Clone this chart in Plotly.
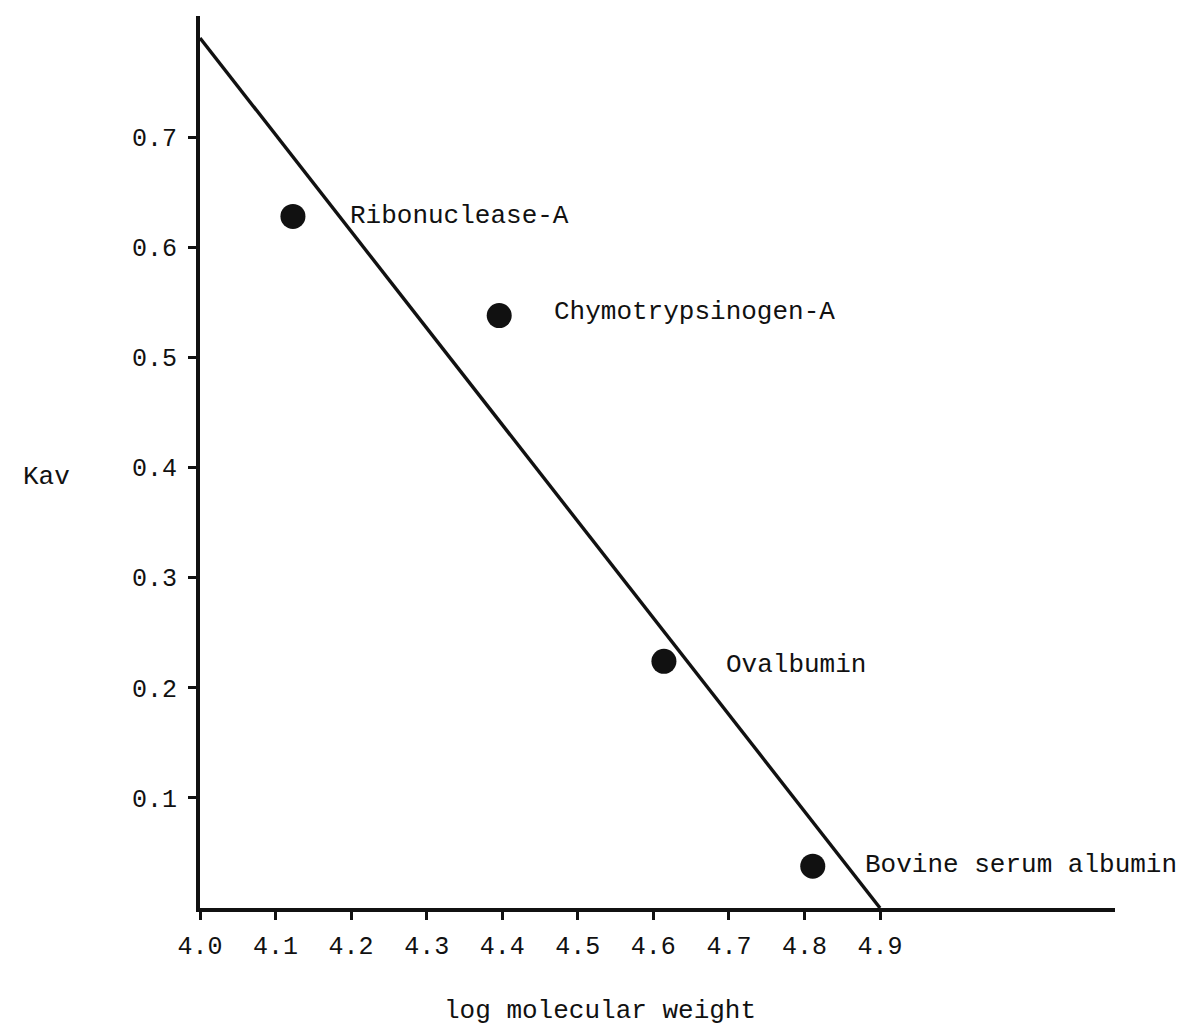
import plotly.graph_objects as go

# Calibration proteins: log molecular weight vs. Kav
proteins = ["Ribonuclease-A", "Chymotrypsinogen-A", "Ovalbumin", "Bovine serum albumin"]
log_mw = [4.123, 4.396, 4.614, 4.811]
kav = [0.628, 0.538, 0.224, 0.038]

# Calibration line end points
line_log_mw = [4.0, 4.9]
line_kav = [0.79, 0.0]

# Tick labels
x_ticks = [4.0, 4.1, 4.2, 4.3, 4.4, 4.5, 4.6, 4.7, 4.8, 4.9]
x_tick_text = ["4.0", "4.1", "4.2", "4.3", "4.4", "4.5", "4.6", "4.7", "4.8", "4.9"]
y_ticks = [0.1, 0.2, 0.3, 0.4, 0.5, 0.6, 0.7]
y_tick_text = ["0.1", "0.2", "0.3", "0.4", "0.5", "0.6", "0.7"]

INK = "#111111"
MONO = "Courier New, Liberation Mono, monospace"

# pixel offsets of each protein name from its point
label_dx = [55, 53, 60, 50]
label_dy = [0, 4, -4, 1]

fig = go.Figure()

fig.add_trace(go.Scatter(
    x=line_log_mw, y=line_kav, mode="lines",
    line=dict(color=INK, width=3.4), hoverinfo="skip", showlegend=False,
))

fig.add_trace(go.Scatter(
    x=log_mw, y=kav, mode="markers",
    marker=dict(color=INK, size=25, line=dict(width=0)),
    text=proteins, showlegend=False,
))

for name, xv, yv, dx, dy in zip(proteins, log_mw, kav, label_dx, label_dy):
    fig.add_annotation(
        x=xv, y=yv, text=name, showarrow=False,
        xanchor="left", yanchor="middle", xshift=dx, yshift=dy,
        font=dict(family=MONO, size=26, color=INK),
    )

fig.add_annotation(
    xref="paper", yref="paper", x=-0.168, y=0.483, text="Kav",
    showarrow=False, xanchor="center", yanchor="middle",
    font=dict(family=MONO, size=26, color=INK),
)
fig.add_annotation(
    xref="paper", yref="paper", x=0.437, y=-0.116, text="log molecular weight",
    showarrow=False, xanchor="center", yanchor="middle",
    font=dict(family=MONO, size=26, color=INK),
)

fig.update_xaxes(
    range=[4.0, 5.211], tickvals=x_ticks, ticktext=x_tick_text,
    showgrid=False, zeroline=False, showline=True, linecolor=INK, linewidth=4,
    ticks="outside", ticklen=8, tickwidth=3, tickcolor=INK,
    tickfont=dict(family=MONO, size=25, color=INK), ticklabelstandoff=4,
)
fig.update_yaxes(
    range=[0, 0.81], tickvals=y_ticks, ticktext=y_tick_text,
    showgrid=False, zeroline=False, showline=True, linecolor=INK, linewidth=4,
    ticks="outside", ticklen=8, tickwidth=3, tickcolor=INK,
    tickfont=dict(family=MONO, size=25, color=INK), ticklabelstandoff=6,
)

fig.update_layout(
    width=1183, height=1029,
    margin=dict(l=200, r=68, t=16, b=121),
    paper_bgcolor="white", plot_bgcolor="white",
    showlegend=False,
)

fig.write_html("out.html")
